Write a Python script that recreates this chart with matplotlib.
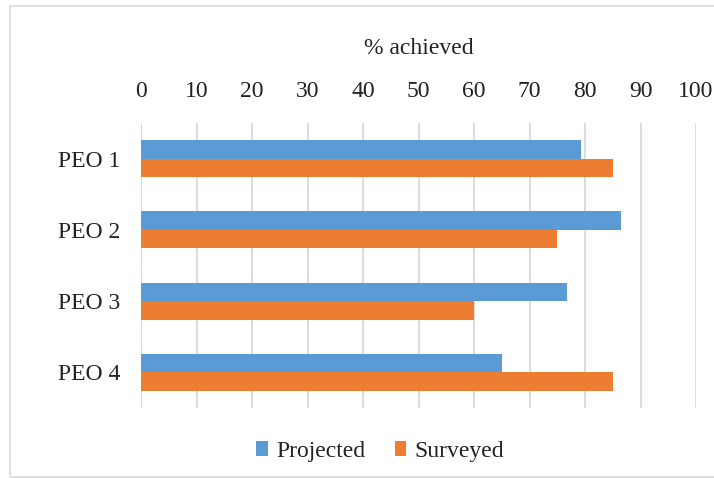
import matplotlib
matplotlib.use("Agg")
import matplotlib.pyplot as plt
import numpy as np
from matplotlib.patches import Rectangle

categories = ["PEO 1", "PEO 2", "PEO 3", "PEO 4"]
projected = [79.3, 86.4, 76.8, 65.1]
surveyed = [85, 75, 60, 85]
xticks = [0, 10, 20, 30, 40, 50, 60, 70, 80, 90, 100]

plt.rcParams['font.family'] = ['Liberation Serif', 'DejaVu Serif']

fig = plt.figure(figsize=(7.14, 4.78), dpi=100)
ax = fig.add_axes([141/714, 1-408/478, (696-141)/714, (408-123)/478])

y = np.arange(len(categories))
h = 0.26
ax.barh(y - h/2, projected, height=h, color="#5B9BD5", label="Projected", zorder=3)
ax.barh(y + h/2, surveyed, height=h, color="#ED7D31", label="Surveyed", zorder=3)

ax.set_xlim(0, 100)
ax.set_ylim(len(categories) - 0.5, -0.5)
ax.set_yticks(y)
ax.set_yticklabels(categories, fontsize=17, color="#222222")
ax.set_xticks(xticks)
ax.set_xticklabels([str(t) for t in xticks], fontsize=17, color="#222222")
ax.xaxis.tick_top()
ax.tick_params(axis='x', length=0, pad=15)
ax.tick_params(axis='y', length=0, pad=60)
for lbl in ax.get_yticklabels():
    lbl.set_horizontalalignment("left")
ax.grid(axis='x', color="#d9d9d9", linewidth=1.3, zorder=0)
for s in ax.spines.values():
    s.set_visible(False)

fig.text((141 + 696) / 2 / 714, 1 - 48/478, "% achieved", ha="center", va="center",
         fontsize=17, color="#222222")

leg = fig.legend(loc="center", bbox_to_anchor=(380/714, 1 - 451/478), ncol=2, frameon=False,
                 fontsize=17, handlelength=0.5, handleheight=0.6, handletextpad=0.35,
                 columnspacing=1.25, labelcolor="#222222")

fig.patches.append(Rectangle((10/714, 1/478), 1.2, 471/478, transform=fig.transFigure,
                             fill=False, edgecolor="#d9d9d9", linewidth=1.2))

fig.savefig("out.png", dpi=100)
